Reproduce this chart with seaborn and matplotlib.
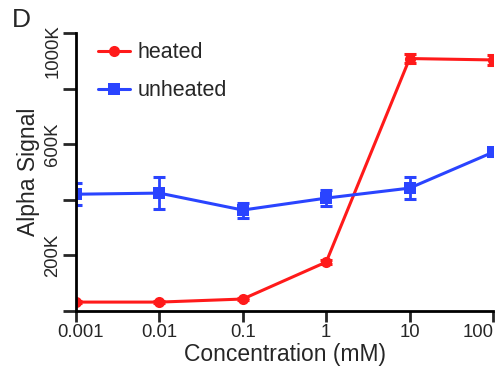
import matplotlib
matplotlib.use("Agg")
import matplotlib.pyplot as plt
import matplotlib.transforms as mtransforms
import seaborn as sns
import pandas as pd
import numpy as np

# ---- data ----
concentrations = [0.001, 0.01, 0.1, 1, 10, 100]
heated = [32000, 32000, 43000, 176000, 908000, 903000]
heated_err = [3000, 3000, 5000, 6000, 16000, 18000]
unheated = [420000, 424000, 363000, 406000, 442000, 571000]
unheated_err = [40000, 57000, 27000, 28000, 40000, 14000]
x_tick_labels = ["0.001", "0.01", "0.1", "1", "10", "100"]
y_ticks = [0, 200000, 400000, 600000, 800000, 1000000]
y_tick_labels = ["", "200K", "", "600K", "", ""]
series_names = ["heated", "unheated"]
colors = {"heated": "#ff1a1a", "unheated": "#2a44ff"}

df = pd.DataFrame({
    "conc": concentrations * 2,
    "signal": heated + unheated,
    "err": heated_err + unheated_err,
    "condition": ["heated"] * 6 + ["unheated"] * 6,
})

sns.set_style("ticks")
plt.rcParams["font.family"] = ["Liberation Sans", "DejaVu Sans"]

fig = plt.figure(figsize=(5, 3.7), dpi=100)
ax = fig.add_axes([0.152, 0.1595, 0.834, 0.7514])

sns.lineplot(data=df, x="conc", y="signal", hue="condition", style="condition",
             markers={"heated": "o", "unheated": "s"}, dashes=False,
             palette=colors, linewidth=2.2, markersize=8, markeredgewidth=0,
             ax=ax, legend=True)

for name in series_names:
    sub = df[df["condition"] == name]
    ax.errorbar(sub["conc"], sub["signal"], yerr=sub["err"], fmt="none",
                ecolor=colors[name], elinewidth=2, capsize=4.5, capthick=2.2)

ax.set_xscale("log")
ax.set_xlim(0.001, 100)
ax.set_ylim(0, 1000000)
ax.set_xticks(concentrations)
ax.set_xticklabels(x_tick_labels)
ax.xaxis.set_minor_locator(matplotlib.ticker.NullLocator())
ax.set_yticks(y_ticks)
ax.set_yticklabels(y_tick_labels, rotation=90, va="center")

ax.annotate("1000K", xy=(0, 1000000), xycoords=ax.get_yaxis_transform(),
            xytext=(-10.5, 6.5), textcoords="offset points",
            rotation=90, ha="right", va="top", fontsize=13.3)

ax.tick_params(axis="x", length=8, width=2, labelsize=13.3, pad=1.5, direction="out")
ax.tick_params(axis="y", length=9.5, width=2, labelsize=13.3, pad=1, direction="out")

# keep the end labels inside the figure as in the reference
xt = ax.get_xticklabels()
xt[-1].set_ha("right")
xt[-1].set_transform(xt[-1].get_transform() +
                     mtransforms.ScaledTranslation(1 / 100, 0, fig.dpi_scale_trans))
xt[0].set_transform(xt[0].get_transform() +
                    mtransforms.ScaledTranslation(4 / 100, 0, fig.dpi_scale_trans))

for s in ["top", "right"]:
    ax.spines[s].set_visible(False)
for s in ["left", "bottom"]:
    ax.spines[s].set_linewidth(2)
    ax.spines[s].set_color("black")

ax.set_xlabel("Concentration (mM)", fontsize=16.5, labelpad=1)
ax.set_ylabel("Alpha Signal", fontsize=16.5, labelpad=3)

handles, labels = ax.get_legend_handles_labels()
ax.legend(handles, labels, loc="upper left", bbox_to_anchor=(0.053, 0.967),
          frameon=False, fontsize=15.5, handlelength=1.5, handletextpad=0.35,
          labelspacing=0.8, borderpad=0, borderaxespad=0)

fig.text(12 / 500, 1 - 8 / 370, "D", fontsize=19, ha="left", va="top")

fig.savefig("out.png", dpi=100)
